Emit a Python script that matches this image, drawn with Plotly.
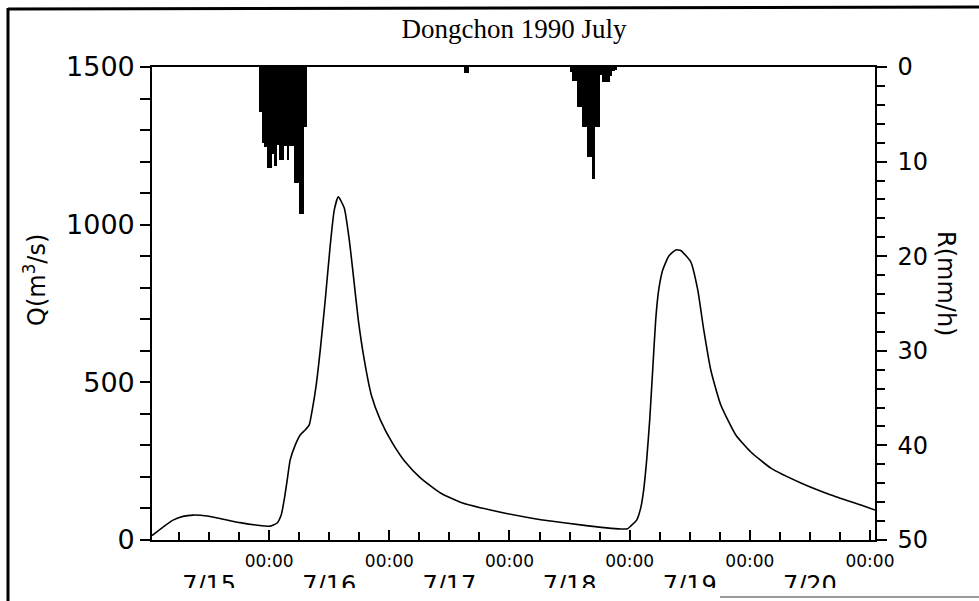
import plotly.graph_objects as go

# Time in hours from 1990-07-15 00:00
flow_hours = [0.6, 2.8, 4.8, 6.8, 8.8, 11.6, 14.8, 18.2, 21.6, 24.2, 25.6, 26.4, 27.0, 27.6,
              28.2, 29.2, 30.2, 31.2, 32.0, 32.6, 33.4, 34.2, 35.2, 36.2, 37.0, 37.8,
              39.0, 40.0, 40.8, 41.8, 43.0, 44.4, 46.2, 48.6, 51.2, 54.2, 58.2, 62.2,
              68.2, 76.2, 86.2, 94.2, 95.6, 96.2, 97.4, 98.2, 98.8, 99.4, 100.0, 100.6,
              101.2, 101.8, 102.6, 103.8, 105.2, 106.2, 108.2, 109.6, 110.8, 112.2,
              114.2, 117.2, 120.2, 124.2, 130.2, 136.2, 142.2, 145.0]
flow_q = [14, 41, 63, 75, 79, 76, 66, 55, 47, 44, 54, 79, 127, 190,
          254, 301, 333, 349, 365, 412, 492, 602, 761, 935, 1046, 1088,
          1053, 952, 841, 698, 571, 460, 381, 308, 247, 197, 149, 120,
          95, 70, 48, 35, 36, 44, 63, 101, 159, 254, 380, 539,
          698, 793, 856, 900, 920, 918, 882, 793, 666, 539,
          428, 333, 279, 228, 181, 143, 111, 95]

# Rainfall (half-hour bars, centre times in hours) and intensities (mm/h)
rain_hours = [22.25, 22.75, 23.25, 23.75, 24.25, 24.75, 25.25, 25.75, 26.25, 26.75,
              27.25, 27.75, 28.25, 28.75, 29.25, 29.75, 30.25, 30.75, 31.25,
              63.25, 63.75,
              84.25, 84.75, 85.25, 85.75, 86.25, 86.75, 87.25, 87.75, 88.25, 88.75,
              89.25, 89.75, 90.25, 90.75, 91.25, 91.75, 92.25, 92.75, 93.25]
rain_r = [4.8, 8.0, 8.5, 10.7, 10.7, 9.2, 10.5, 8.2, 9.8, 9.8,
          8.4, 9.8, 8.4, 8.4, 12.3, 12.3, 15.5, 15.5, 6.3,
          0.6, 0.6,
          0.5, 1.5, 1.5, 4.2, 4.2, 6.3, 6.3, 9.5, 9.5, 11.8,
          6.3, 6.3, 0.8, 1.6, 1.6, 1.6, 1.0, 0.4, 0.3]

time_tick_vals = [24, 48, 72, 96, 120, 144]
time_tick_text = ["00:00"] * 6
date_tick_vals = [12, 36, 60, 84, 108, 132]
date_tick_text = ["7/15", "7/16", "7/17", "7/18", "7/19", "7/20"]
q_ticks = [0, 500, 1000, 1500]
r_ticks = [0, 10, 20, 30, 40, 50]

X_RANGE = [0.6, 145.0]

fig = go.Figure()
fig.add_trace(go.Bar(x=rain_hours, y=rain_r, width=0.5, yaxis="y2",
                     marker=dict(color="black", line=dict(width=0)),
                     showlegend=False, hoverinfo="skip"))
fig.add_trace(go.Scatter(x=flow_hours, y=flow_q, mode="lines",
                         line=dict(color="black", width=1.6, shape="spline", smoothing=0.5),
                         showlegend=False))
fig.add_trace(go.Scatter(x=[X_RANGE[0]], y=[0], xaxis="x2", mode="markers",
                         marker=dict(opacity=0), showlegend=False, hoverinfo="skip"))

sans = "DejaVu Sans"
W, H = 979, 601
L, R, T, B = 152, 104, 67, 61
pw, ph = W - L - R, H - T - B

def px(x):
    return (x - L) / pw

def py(y):
    return (H - B - y) / ph

fig.update_layout(
    width=W, height=H,
    margin=dict(l=L, r=R, t=T, b=B, autoexpand=False),
    paper_bgcolor="white", plot_bgcolor="white",
    barmode="overlay", bargap=0,
    title=dict(text="Dongchon 1990 July", x=514 / W, xanchor="center",
               y=1 - 29 / H, yanchor="middle", automargin=False,
               font=dict(family="Liberation Serif", size=27, color="black")),
    xaxis=dict(range=X_RANGE, tickmode="array", tickvals=time_tick_vals,
               ticktext=time_tick_text, ticks="inside", ticklen=10, tickwidth=1.5,
               tickcolor="black", showline=True, linecolor="black", linewidth=1.6,
               mirror=True, showgrid=False, zeroline=False, automargin=False,
               ticklabelstandoff=5,
               tickfont=dict(family=sans, size=17, color="black"),
               minor=dict(dtick=6, tick0=0, ticks="inside", ticklen=8,
                          tickwidth=1.5, tickcolor="black", showgrid=False)),
    xaxis2=dict(range=X_RANGE, overlaying="x", side="bottom", anchor="y",
                tickmode="array", tickvals=date_tick_vals, ticktext=date_tick_text,
                ticks="", showline=False, showgrid=False, zeroline=False,
                automargin=False, ticklabelstandoff=28,
                tickfont=dict(family=sans, size=24, color="black")),
    yaxis=dict(range=[0, 1500], tickmode="array", tickvals=q_ticks,
               ticks="outside", ticklen=10, tickwidth=1.5, tickcolor="black",
               showline=True, linecolor="black", linewidth=1.6, showgrid=False,
               zeroline=False, automargin=False,
               tickfont=dict(family=sans, size=27, color="black"),
               minor=dict(dtick=100, ticks="outside", ticklen=10, tickwidth=1.5,
                          tickcolor="black", showgrid=False)),
    yaxis2=dict(range=[50, 0], overlaying="y", side="right", anchor="x",
                tickmode="array", tickvals=r_ticks, ticks="outside", ticklen=10,
                tickwidth=1.5, tickcolor="black", showline=True, linecolor="black",
                linewidth=1.6, showgrid=False, zeroline=False, automargin=False,
                ticklabelstandoff=6,
                tickfont=dict(family=sans, size=24, color="black"),
                minor=dict(dtick=2, ticks="outside", ticklen=8, tickwidth=1.5,
                           tickcolor="black", showgrid=False)),
    annotations=[
        dict(text="Q(m<sup>3</sup>/s)", textangle=-90, x=px(35), y=py(280),
             xref="paper", yref="paper", xanchor="center", yanchor="middle",
             showarrow=False, font=dict(family=sans, size=24, color="black")),
        dict(text="R(mm/h)", textangle=90, x=px(946), y=py(283),
             xref="paper", yref="paper", xanchor="center", yanchor="middle",
             showarrow=False, font=dict(family=sans, size=24, color="black")),
    ],
    shapes=[
        # white band clipping the bottom of the date labels (scan edge)
        dict(type="rect", xref="paper", yref="paper", x0=px(0), x1=px(W),
             y0=py(588), y1=py(H + 5), fillcolor="white", line=dict(width=0),
             layer="above"),
        # outer frame
        dict(type="line", xref="paper", yref="paper", x0=px(8), x1=px(8),
             y0=py(8), y1=py(H), line=dict(color="black", width=3), layer="above"),
        dict(type="line", xref="paper", yref="paper", x0=px(8), x1=px(W),
             y0=py(9), y1=py(7), line=dict(color="black", width=3), layer="above"),
        dict(type="line", xref="paper", yref="paper", x0=px(720), x1=px(W),
             y0=py(597), y1=py(597), line=dict(color="#9a9a9a", width=2), layer="above"),
    ],
)

fig.write_html(
    "out.html",
    config={"displayModeBar": False},
    post_script="document.body.style.margin='0px';document.body.style.overflow='hidden';",
)
